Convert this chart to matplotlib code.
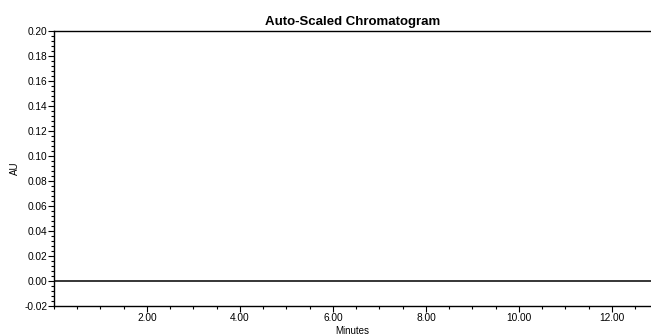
import matplotlib
matplotlib.use("Agg")
import matplotlib.pyplot as plt
from matplotlib.ticker import MultipleLocator, FormatStrFormatter

plt.rcParams['font.family'] = ['Liberation Sans', 'DejaVu Sans']
plt.rcParams['axes.unicode_minus'] = False

# Data
time_min = [0.0, 2.0, 4.0, 6.0, 8.0, 10.0, 12.0, 12.84]
au = [0.0, 0.0, 0.0, 0.0, 0.0, 0.0, 0.0, 0.0]
x_major = [2, 4, 6, 8, 10, 12]
title = "Auto-Scaled Chromatogram"
x_label = "Minutes"
y_label = "AU"

fig = plt.figure(figsize=(6.51, 3.36), dpi=100)
ax = fig.add_axes([54/651, 1-306/336, 1-54/651, (306-31)/336])

ax.plot(time_min, au, color='black', linewidth=1.1)

ax.set_xlim(0, 12.84)
ax.set_ylim(-0.02, 0.20)

ax.set_xticks(x_major)
ax.xaxis.set_minor_locator(MultipleLocator(0.5))
ax.xaxis.set_major_formatter(FormatStrFormatter('%.2f'))
ax.yaxis.set_major_locator(MultipleLocator(0.02))
ax.yaxis.set_minor_locator(MultipleLocator(0.004))
ax.yaxis.set_major_formatter(FormatStrFormatter('%.2f'))

ax.tick_params(axis='both', which='major', length=4, width=0.8, labelsize=7.3, pad=1, colors='black')
ax.tick_params(axis='both', which='minor', length=2.2, width=0.8)

ax.spines['right'].set_visible(False)
for s in ['left', 'top', 'bottom']:
    ax.spines[s].set_linewidth(1.0)
    ax.spines[s].set_color('black')

ax.set_title(title, fontsize=9.5, fontweight='bold', pad=4)
ax.set_xlabel(x_label, fontsize=7, labelpad=2.5)
fig.text(15/651, 1-168/336, y_label, fontsize=7, rotation=90, ha='center', va='center')

fig.savefig("out.png", dpi=100)
